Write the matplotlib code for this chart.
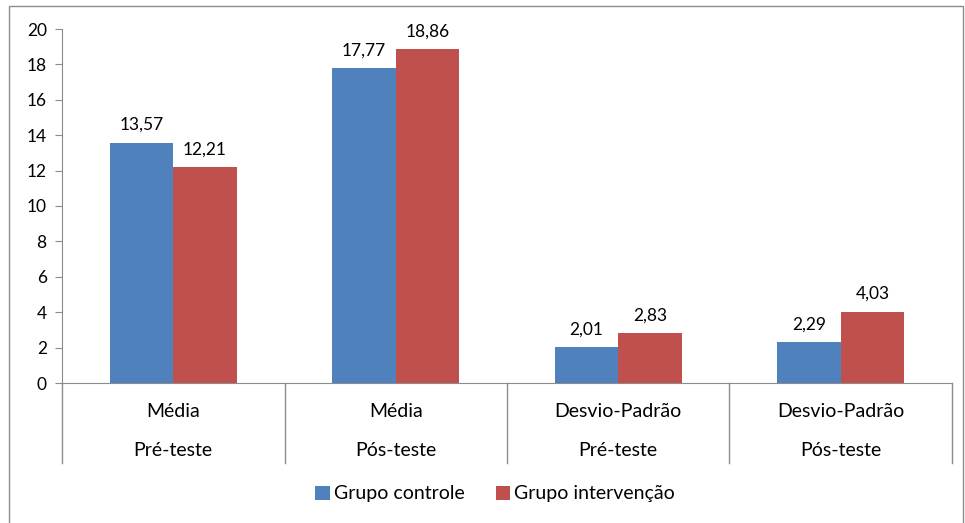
import matplotlib
matplotlib.use("Agg")
from matplotlib import pyplot as plt
from matplotlib.patches import Rectangle
import numpy as np

stat_labels = ["Média", "Média", "Desvio-Padrão", "Desvio-Padrão"]
phase_labels = ["Pré-teste", "Pós-teste", "Pré-teste", "Pós-teste"]
controle = [13.57, 17.77, 2.01, 2.29]
intervencao = [12.21, 18.86, 2.83, 4.03]
series_names = ["Grupo controle", "Grupo intervenção"]

plt.rcParams['font.family'] = ['Lato', 'DejaVu Sans']

fig = plt.figure(figsize=(9.65, 5.23), dpi=100)
fig.patches.append(Rectangle((9/965, -0.05), (963-9)/965, 1.05 - 6/523, transform=fig.transFigure,
                             fill=False, edgecolor='#8c8c8c', linewidth=1.0))
ax = fig.add_axes([62/965, 1-383/523, (952-62)/965, (383-29)/523])

x = np.arange(len(controle))
w = 0.285
b1 = ax.bar(x - w/2, controle, w, color='#4F81BD', label=series_names[0])
b2 = ax.bar(x + w/2, intervencao, w, color='#C0504D', label=series_names[1])

def fmt(v):
    return ("%.2f" % v).replace(".", ",")

for bars, vals in ((b1, controle), (b2, intervencao)):
    for r, v in zip(bars, vals):
        ax.annotate(fmt(v), (r.get_x() + r.get_width()/2, v), xytext=(0, 7),
                    textcoords='offset points', ha='center', va='bottom', fontsize=12.5)

ax.set_xlim(-0.5, len(controle) - 0.5)
ax.set_ylim(0, 20)
ax.set_yticks(range(0, 21, 2))
ax.tick_params(axis='y', length=5, color='#8c8c8c', labelsize=12.5, pad=6)
ax.set_xticks([])
for s in ('top', 'right'):
    ax.spines[s].set_visible(False)
ax.spines['left'].set_color('#8c8c8c')
ax.spines['bottom'].set_color('#8c8c8c')

# two level category axis
for i in range(len(controle) + 1):
    ax.plot([i - 0.5, i - 0.5], [0, -0.226], transform=ax.get_xaxis_transform(),
            color='#8c8c8c', linewidth=1.0, clip_on=False)
for i in range(len(controle)):
    ax.text(i, -0.08, stat_labels[i], transform=ax.get_xaxis_transform(),
            ha='center', va='center', fontsize=14)
    ax.text(i, -0.192, phase_labels[i], transform=ax.get_xaxis_transform(),
            ha='center', va='center', fontsize=14)

fig.legend(handles=[b1, b2], labels=series_names, loc='center', bbox_to_anchor=(495/965, 1-494/523),
           ncol=2, frameon=False, fontsize=14, handlelength=0.75, handleheight=0.75,
           handletextpad=0.2, columnspacing=1.6)

fig.savefig("out.png", dpi=100)
